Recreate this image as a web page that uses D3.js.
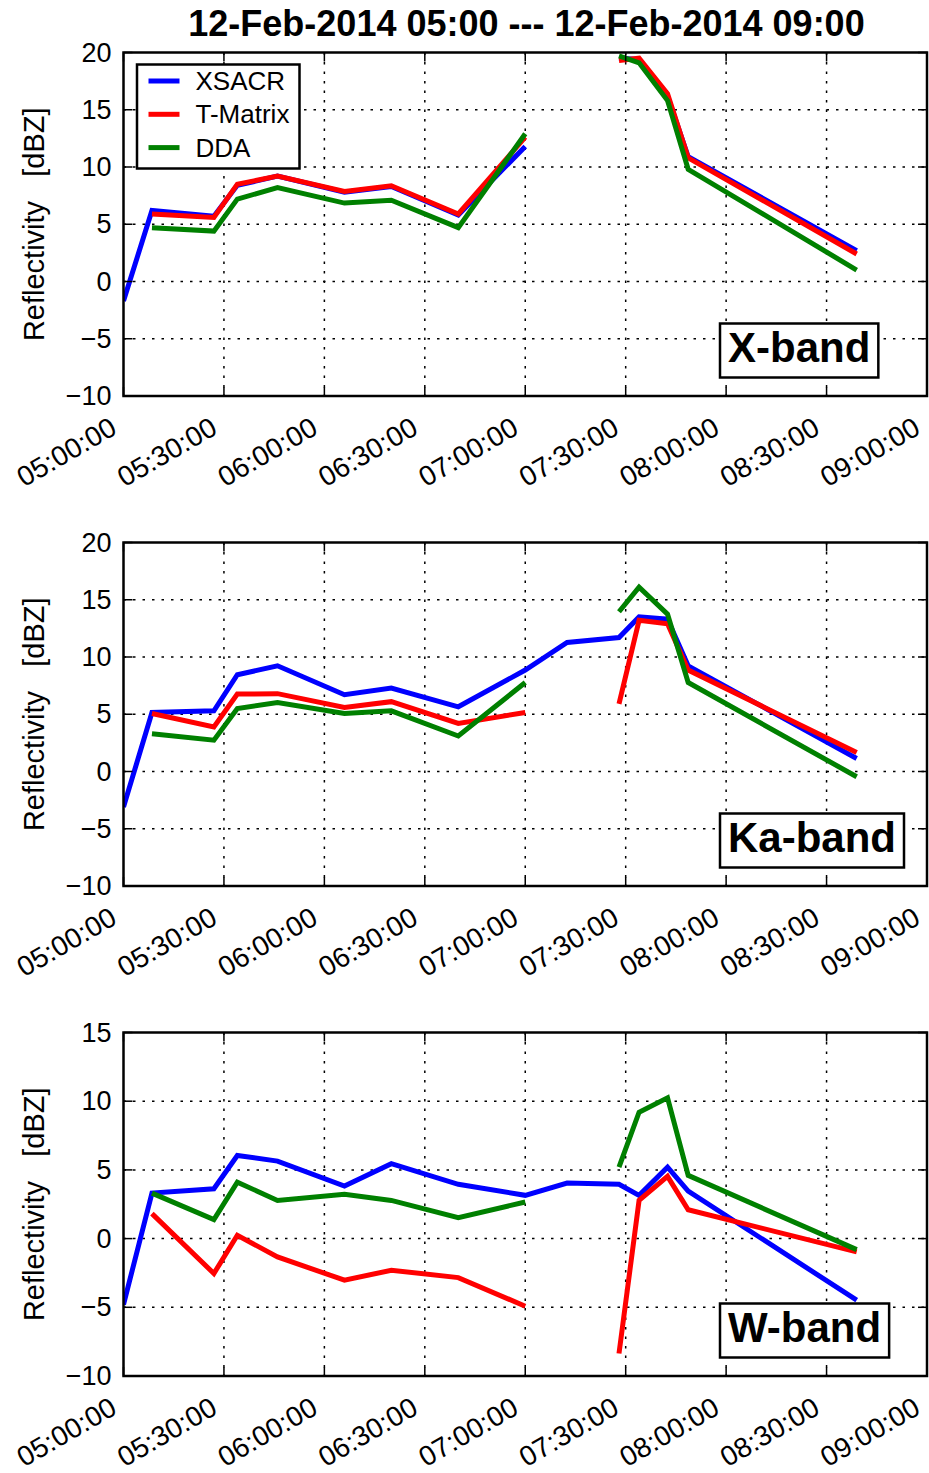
<!DOCTYPE html>
<html>
<head>
<meta charset="utf-8">
<script src="https://cdn.jsdelivr.net/npm/d3@7"></script>
<style>
  html, body { margin: 0; padding: 0; background: #fff; }
  svg { display: block; font-family: "Liberation Sans", Arial, Helvetica, sans-serif; }
</style>
</head>
<body>
<svg id="chart" width="929" height="1473"></svg>
<script>
// Sample times (12 Feb 2014)
const times = ["05:00:00","05:08:30","05:27:00","05:34:00","05:46:00","06:06:00","06:20:00",
               "06:40:00","07:00:00","07:12:30","07:28:00","07:34:00","07:42:30","07:48:40","08:39:00"];

// Reflectivity [dBZ]; null = no data
const xXSACR = [-1.7, 6.2, 5.7, 8.4, 9.2, 7.8, 8.3, 5.8, 11.8, null, 19.5, 19.4, 16.2, 10.9, 2.7];
const xTMatrix = [null, 5.9, 5.6, 8.5, 9.2, 7.86, 8.36, 5.9, 12.6, null, 19.3, 19.5, 16.4, 10.8, 2.4];
const xDDA = [null, 4.7, 4.4, 7.2, 8.2, 6.85, 7.1, 4.7, 12.9, null, 19.7, 19.1, 15.8, 9.8, 1.0];

const kaXSACR = [-3.1, 5.15, 5.3, 8.45, 9.23, 6.7, 7.28, 5.65, 8.86, 11.27, 11.7, 13.5, 13.3, 9.23, 1.14];
const kaTMatrix = [null, 5.07, 3.9, 6.76, 6.8, 5.6, 6.1, 4.2, 5.15, null, 5.9, 13.2, 12.9, 8.86, 1.66];
const kaDDA = [null, 3.3, 2.74, 5.5, 6.03, 5.07, 5.3, 3.1, 7.77, null, 13.95, 16.1, 13.75, 7.77, -0.46];

const wXSACR = [-4.8, 3.31, 3.63, 6.05, 5.64, 3.82, 5.45, 3.95, 3.15, 4.04, 3.95, 3.15, 5.2, 3.46, -4.48];
const wTMatrix = [null, 1.82, -2.54, 0.24, -1.33, -3.03, -2.3, -2.84, -4.92, null, -8.36, 2.78, 4.53, 2.1, -0.97];
const wDDA = [null, 3.31, 1.38, 4.11, 2.78, 3.22, 2.78, 1.53, 2.66, null, 5.2, 9.2, 10.25, 4.6, -0.8];

const seriesNames = ["XSACR", "T-Matrix", "DDA"];
const seriesColors = ["#0000ff", "#ff0000", "#008000"];
const bandNames = ["X-band", "Ka-band", "W-band"];
const yTicks = [[-10, -5, 0, 5, 10, 15, 20], [-10, -5, 0, 5, 10, 15, 20], [-10, -5, 0, 5, 10, 15]];
const titleText = "12-Feb-2014 05:00 --- 12-Feb-2014 09:00";
const yLabel = "Reflectivity   [dBZ]";

const bands = [
  { name: bandNames[0], ticks: yTicks[0], series: [xXSACR, xTMatrix, xDDA] },
  { name: bandNames[1], ticks: yTicks[1], series: [kaXSACR, kaTMatrix, kaDDA] },
  { name: bandNames[2], ticks: yTicks[2], series: [wXSACR, wTMatrix, wDDA] }
];

const parse = d3.timeParse("%Y-%m-%d %H:%M:%S");
const dates = times.map(t => parse("2014-02-12 " + t));
const t0 = parse("2014-02-12 05:00:00"), t1 = parse("2014-02-12 09:00:00");

const svg = d3.select("#chart");
const left = 123.5, right = 927, panelH = 343.5;
const tops = [52.5, 542.5, 1032.5];

svg.append("text")
  .attr("x", 526.5).attr("y", 36)
  .attr("text-anchor", "middle")
  .attr("font-size", 36).attr("font-weight", "bold")
  .text(titleText);

const fmt = d3.timeFormat("%H:%M:%S");
const tickLen = 9;

bands.forEach((band, bi) => {
  const top = tops[bi], bottom = top + panelH;
  const x = d3.scaleTime().domain([t0, t1]).range([left, right]);
  const y = d3.scaleLinear().domain([d3.min(band.ticks), d3.max(band.ticks)]).range([bottom, top]);
  const xTicks = x.ticks(d3.timeMinute.every(30));

  const g = svg.append("g");

  // dotted grid
  g.append("g").selectAll("line").data(xTicks.slice(1, -1)).join("line")
    .attr("x1", d => x(d)).attr("x2", d => x(d)).attr("y1", top).attr("y2", bottom)
    .attr("stroke", "#000").attr("stroke-width", 1.5).attr("stroke-dasharray", "2.5,7");
  g.append("g").selectAll("line").data(band.ticks.slice(1, -1)).join("line")
    .attr("y1", d => y(d)).attr("y2", d => y(d)).attr("x1", left).attr("x2", right)
    .attr("stroke", "#000").attr("stroke-width", 1.5).attr("stroke-dasharray", "2.5,7");

  // data lines, clipped to the axes
  const clipId = "clip" + bi;
  svg.append("clipPath").attr("id", clipId).append("rect")
    .attr("x", left).attr("y", top).attr("width", right - left).attr("height", panelH);
  const line = d3.line()
    .defined(d => d[1] != null)
    .x(d => x(d[0])).y(d => y(d[1]));
  const lg = g.append("g").attr("clip-path", `url(#${clipId})`);
  band.series.forEach((vals, si) => {
    lg.append("path")
      .datum(vals.map((v, i) => [dates[i], v]))
      .attr("d", line)
      .attr("fill", "none")
      .attr("stroke", seriesColors[si])
      .attr("stroke-width", 5)
      .attr("stroke-linejoin", "miter");
  });

  // inward ticks on all four sides
  const tk = g.append("g").attr("stroke", "#000").attr("stroke-width", 1.5);
  xTicks.forEach(d => {
    tk.append("line").attr("x1", x(d)).attr("x2", x(d)).attr("y1", bottom).attr("y2", bottom - tickLen);
    tk.append("line").attr("x1", x(d)).attr("x2", x(d)).attr("y1", top).attr("y2", top + tickLen);
  });
  band.ticks.forEach(d => {
    tk.append("line").attr("x1", left).attr("x2", left + tickLen).attr("y1", y(d)).attr("y2", y(d));
    tk.append("line").attr("x1", right).attr("x2", right - tickLen).attr("y1", y(d)).attr("y2", y(d));
  });

  // frame
  g.append("rect").attr("x", left).attr("y", top).attr("width", right - left).attr("height", panelH)
    .attr("fill", "none").attr("stroke", "#000").attr("stroke-width", 2.5);

  // y tick labels
  g.append("g").selectAll("text").data(band.ticks).join("text")
    .attr("x", left - 12).attr("y", d => y(d))
    .attr("text-anchor", "end").attr("dominant-baseline", "central")
    .attr("font-size", 27)
    .text(d => d < 0 ? "\u2212" + Math.abs(d) : String(d));

  // x tick labels, rotated
  g.append("g").selectAll("text").data(xTicks).join("text")
    .attr("transform", d => `translate(${x(d) - 5},${bottom + 37}) rotate(-30)`)
    .attr("text-anchor", "end")
    .attr("font-size", 28)
    .text(d => fmt(d));

  // y axis label
  svg.append("text")
    .attr("transform", `translate(44,${(top + bottom) / 2}) rotate(-90)`)
    .attr("text-anchor", "middle")
    .attr("font-size", 29)
    .style("white-space", "pre")
    .text(yLabel);

  // band name box
  const bl = g.append("g");
  const bt = bl.append("text")
    .attr("x", 728).attr("y", top + 309.5)
    .attr("font-size", 42).attr("font-weight", "bold")
    .text(band.name);
  const bw = bt.node().getComputedTextLength();
  bl.insert("rect", "text")
    .attr("x", 720).attr("y", top + 271).attr("width", bw + 16).attr("height", 54)
    .attr("fill", "#fff").attr("stroke", "#000").attr("stroke-width", 2.5);

  // legend in the first panel
  if (bi === 0) {
    const leg = g.append("g");
    leg.append("rect")
      .attr("x", left + 13.5).attr("y", top + 12).attr("width", 162.5).attr("height", 104)
      .attr("fill", "#fff").attr("stroke", "#000").attr("stroke-width", 2.5);
    seriesNames.forEach((name, si) => {
      const ry = top + 28.5 + si * 33.3;
      leg.append("line")
        .attr("x1", left + 25).attr("x2", left + 56).attr("y1", ry).attr("y2", ry)
        .attr("stroke", seriesColors[si]).attr("stroke-width", 5);
      leg.append("text")
        .attr("x", left + 72).attr("y", ry)
        .attr("dominant-baseline", "central")
        .attr("font-size", 26)
        .text(name);
    });
  }
});
</script>
</body>
</html>
